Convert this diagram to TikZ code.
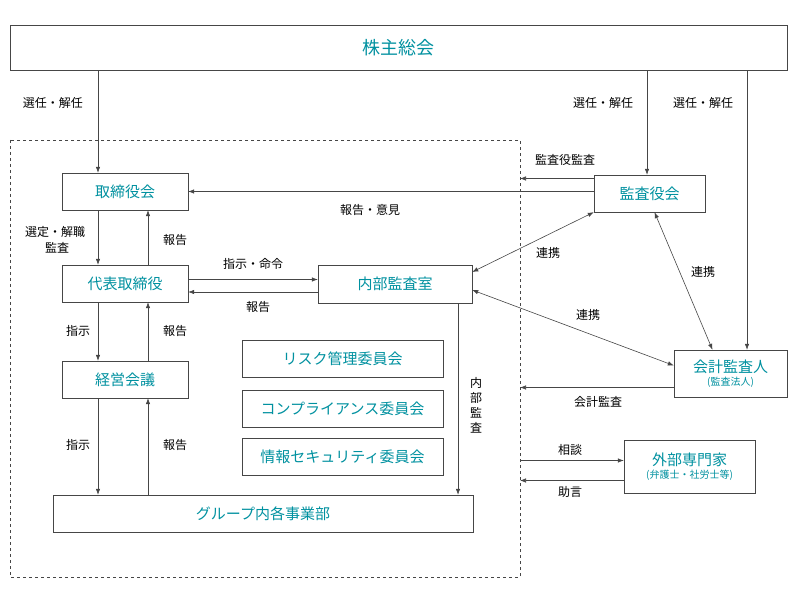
\documentclass[tikz,border=0pt]{standalone}
\usepackage{fontspec}
\setmainfont{Noto Sans CJK JP}
\usetikzlibrary{arrows.meta, positioning, calc}
\definecolor{gov_teal}{RGB}{0, 145, 160}
\definecolor{gov_line}{RGB}{70, 70, 70}

\begin{document}
\begin{tikzpicture}[x=1pt, y=-1pt,
        box/.style={rectangle, draw=gov_line, fill=white, inner sep=0pt,
                    align=center, text=gov_teal, font=\fontsize{15}{17}\selectfont},
        arr/.style={-{Latex[length=6pt,width=4.5pt]}, gov_line, line width=0.6pt},
        both/.style={{Latex[length=6pt,width=4.5pt]}-{Latex[length=6pt,width=4.5pt]}, gov_line, line width=0.6pt},
        lbl/.style={font=\fontsize{12}{14}\selectfont, text=black, inner sep=1pt, align=center},
      ]
        \useasboundingbox (0,0) rectangle (798,601);

        % Boxes
        \node[box, minimum width=777, minimum height=45, font=\fontsize{18}{20}\selectfont] (kabu) at (398.5,47.5) {株主総会};
        \draw[dashed, gov_line, line width=0.6pt] (10,140) rectangle (520,577);
        \coordinate (edge) at (520,0);
        \node[box, minimum width=126, minimum height=37] (tori) at (125,191.5) {取締役会};
        \node[box, minimum width=126, minimum height=37] (daihyo) at (125,283.5) {代表取締役};
        \node[box, minimum width=126, minimum height=37] (keiei) at (125,379.5) {経営会議};
        \node[box, minimum width=154, minimum height=38] (naibu) at (395,284) {内部監査室};
        \node[box, minimum width=201, minimum height=37] (risk) at (342.5,358.5) {リスク管理委員会};
        \node[box, minimum width=201, minimum height=37] (comp) at (342.5,408.5) {コンプライアンス委員会};
        \node[box, minimum width=201, minimum height=37] (info) at (342.5,456.5) {情報セキュリティ委員会};
        \node[box, minimum width=420, minimum height=37] (group) at (263,513.5) {グループ内各事業部};
        \node[box, minimum width=111, minimum height=37] (kansa) at (649.5,193.5) {監査役会};
        \node[box, minimum width=113, minimum height=47] (kaikei) at (730.5,373.5)
          {会計監査人\\[-4pt]{\fontsize{10}{11}\selectfont (監査法人)}};
        \node[box, minimum width=131, minimum height=53] (gaibu) at (689.5,466.5)
          {外部専門家\\[-4pt]{\fontsize{10}{11}\selectfont (弁護士・社労士等)}};

        % Shareholders
        \draw[arr] ([xshift=-27]tori.north |- kabu.south) -- ([xshift=-27]tori.north);
        \draw[arr] ([xshift=-2.5]kansa.north |- kabu.south) -- ([xshift=-2.5]kansa.north);
        \draw[arr] ([xshift=16.5]kaikei.north |- kabu.south) -- ([xshift=16.5]kaikei.north);
        \node[lbl] at (53,103) {選任・解任};
        \node[lbl] at (603,103) {選任・解任};
        \node[lbl] at (703,103) {選任・解任};

        % Left column
        \draw[arr] ([xshift=-27]tori.south) -- ([xshift=-27]daihyo.north);
        \draw[arr] ([xshift=23]daihyo.north) -- ([xshift=23]tori.south);
        \draw[arr] ([xshift=-27]daihyo.south) -- ([xshift=-27]keiei.north);
        \draw[arr] ([xshift=23]keiei.north) -- ([xshift=23]daihyo.south);
        \draw[arr] ([xshift=-27]keiei.south) -- ([xshift=-27]keiei.south |- group.north);
        \draw[arr] ([xshift=23]keiei.south |- group.north) -- ([xshift=23]keiei.south);
        \node[lbl] at (55,232) {選定・解職};
        \node[lbl] at (57,248) {監査};
        \node[lbl] at (175,240) {報告};
        \node[lbl] at (78,331) {指示};
        \node[lbl] at (175,331) {報告};
        \node[lbl] at (78,445) {指示};
        \node[lbl] at (175,445) {報告};

        % Internal audit
        \draw[arr] ([yshift=4]daihyo.east) -- ([yshift=4]daihyo.east -| naibu.west);
        \draw[arr] ([yshift=-8]naibu.west) -- ([yshift=-8]naibu.west -| daihyo.east);
        \node[lbl] at (253,264) {指示・命令};
        \node[lbl] at (258,307) {報告};
        \draw[arr] ([xshift=63]naibu.south) -- ([xshift=63]naibu.south |- group.north);
        \node[lbl, font=\fontsize{12}{15}\selectfont] at (476,405) {内\\部\\監\\査};

        % Auditors
        \draw[arr] (kansa.west |- tori.east) -- (tori.east);
        \node[lbl] at (370,210) {報告・意見};
        \draw[arr] ([yshift=15]kansa.west) -- ([yshift=15]kansa.west -| edge);
        \node[lbl] at (565,160) {監査役監査};
        \draw[both] (kansa.south west) -- ([yshift=12]naibu.east);
        \node[lbl] at (548,253) {連携};
        \draw[both] ([xshift=5]kansa.south) -- ([xshift=-18]kaikei.north);
        \node[lbl] at (703,272) {連携};
        \draw[both] ([yshift=-6]naibu.east) -- ([yshift=8]kaikei.west);
        \node[lbl] at (588,315) {連携};
        \draw[arr] ([yshift=-14]kaikei.west) -- ([yshift=-14]kaikei.west -| edge);
        \node[lbl] at (598,402) {会計監査};

        % Outside experts
        \draw[arr] ([yshift=6]gaibu.west -| edge) -- ([yshift=6]gaibu.west);
        \draw[arr] ([yshift=-14]gaibu.west) -- ([yshift=-14]gaibu.west -| edge);
        \node[lbl] at (570,450) {相談};
        \node[lbl] at (570,492) {助言};
\end{tikzpicture}
\end{document}
